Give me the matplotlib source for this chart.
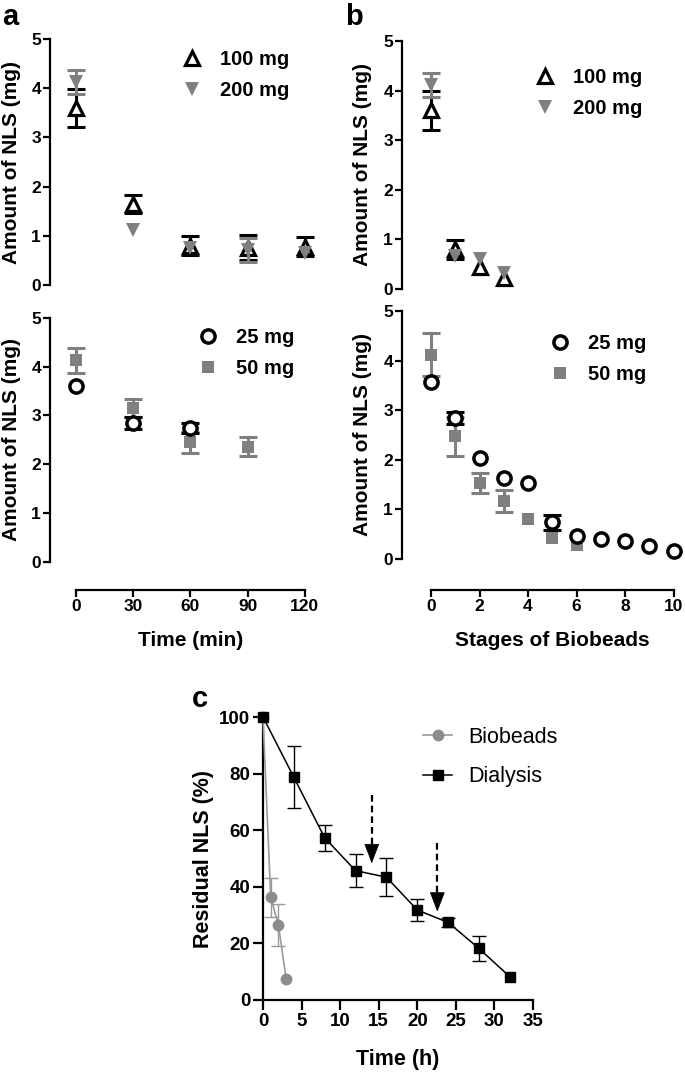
import matplotlib
matplotlib.use('Agg')
import matplotlib.pyplot as plt
from matplotlib.lines import Line2D
import numpy as np

plt.rcParams['font.family'] = ['Liberation Sans', 'DejaVu Sans']
plt.rcParams['font.weight'] = 'bold'
plt.rcParams['axes.labelweight'] = 'bold'

# ---------------- data ----------------
# panel a (time in min)
time_min = [0, 30, 60, 90, 120]
a_100_mean = [3.60, 1.65, 0.80, 0.76, 0.78]
a_100_err = [0.39, 0.18, 0.19, 0.26, 0.19]
a_200_mean = [4.12, 1.12, 0.75, 0.71, 0.65]
a_200_err = [0.24, 0.00, 0.00, 0.24, 0.00]

time_25 = [0, 30, 60]
a_25_mean = [3.60, 2.84, 2.75]
a_25_err = [0.00, 0.12, 0.10]
time_50 = [0, 30, 60, 90]
a_50_mean = [4.13, 3.15, 2.45, 2.36]
a_50_err = [0.26, 0.18, 0.21, 0.20]

# panel b (stages of Biobeads)
stage_top = [0, 1, 2, 3]
b_100_mean = [3.60, 0.80, 0.45, 0.22]
b_100_err = [0.40, 0.19, 0.00, 0.00]
b_200_mean = [4.12, 0.66, 0.60, 0.32]
b_200_err = [0.24, 0.00, 0.00, 0.00]

stage_25 = [0, 1, 2, 3, 4, 5, 6, 7, 8, 9, 10]
b_25_mean = [3.57, 2.84, 2.04, 1.63, 1.53, 0.74, 0.47, 0.41, 0.36, 0.27, 0.17]
b_25_err = [0.00, 0.12, 0.00, 0.00, 0.00, 0.15, 0.00, 0.00, 0.00, 0.00, 0.00]
stage_50 = [0, 1, 2, 3, 4, 5, 6]
b_50_mean = [4.12, 2.47, 1.54, 1.17, 0.81, 0.42, 0.29]
b_50_err = [0.44, 0.40, 0.20, 0.23, 0.00, 0.00, 0.00]

# panel c (time in h)
bio_t = [0, 1, 2, 3]
bio_mean = [100, 36.3, 26.5, 7.5]
bio_err = [0, 6.9, 7.5, 0]
dia_t = [0, 4, 8, 12, 16, 20, 24, 28, 32]
dia_mean = [100, 78.7, 57.3, 45.7, 43.4, 31.8, 27.4, 18.2, 8.2]
dia_err = [0, 11.0, 4.7, 5.9, 6.7, 4.0, 1.5, 4.5, 0]
arrow_x = [14.1, 22.6]
arrow_top = [72.4, 55.4]
arrow_base = [54.8, 37.7]
arrow_tip = [48.3, 31.2]

GRAY = '#808080'
W, H = 685, 1076
fig = plt.figure(figsize=(W / 100, H / 100), dpi=100)


def px_axes(left, top, right, bottom):
    return fig.add_axes([left / W, 1 - bottom / H, (right - left) / W, (bottom - top) / H])


def fpt(x, y):
    return (x / W, 1 - y / H)


def style_ab(ax, xlim, bottom=False, xticks=None, outward=0):
    ax.set_xlim(*xlim)
    ax.set_ylim(0, 5)
    ax.set_yticks([0, 1, 2, 3, 4, 5])
    for s in ['top', 'right']:
        ax.spines[s].set_visible(False)
    ax.spines['left'].set_linewidth(1.6)
    ax.spines['left'].set_bounds(0, 5)
    ax.tick_params(axis='both', labelsize=12.5, width=1.6, length=5, pad=1.5)
    if bottom:
        ax.spines['bottom'].set_position(('outward', outward))
        ax.spines['bottom'].set_bounds(xticks[0], xticks[-1])
        ax.spines['bottom'].set_linewidth(1.6)
        ax.set_xticks(xticks)
    else:
        ax.spines['bottom'].set_visible(False)
        ax.set_xticks([])
    ax.set_ylabel('Amount of NLS (mg)', fontsize=15, va='center')


def errpts(ax, x, m, e, color, z):
    x = np.asarray(x); m = np.asarray(m); e = np.asarray(e)
    k = e > 0
    if k.any():
        ax.errorbar(x[k], m[k], yerr=e[k], fmt='none', ecolor=color, elinewidth=2.2,
                    capsize=6.5, capthick=2.2, zorder=z, clip_on=False)


# ---------- panel a ----------
axA1 = px_axes(50, 39, 320, 285)
style_ab(axA1, (-13.6, 128))
errpts(axA1, time_min, a_100_mean, a_100_err, 'black', 2)
axA1.plot(time_min, a_100_mean, ls='none', marker='^', ms=10.5, mfc='white', mec='black', mew=2.3,
          zorder=3, clip_on=False)
errpts(axA1, time_min, a_200_mean, a_200_err, GRAY, 4)
axA1.plot(time_min, a_200_mean, ls='none', marker='v', ms=9.5, mfc=GRAY, mec=GRAY, mew=0,
          zorder=5, clip_on=False)
axA1.yaxis.set_label_coords((12 - 50) / 270, 0.5)

axA2 = px_axes(50, 318, 320, 561.7)
style_ab(axA2, (-13.6, 128), bottom=True, xticks=[0, 30, 60, 90, 120], outward=20.5)
errpts(axA2, time_50, a_50_mean, a_50_err, GRAY, 2)
axA2.plot(time_50, a_50_mean, ls='none', marker='s', ms=8.5, mfc=GRAY, mec=GRAY, mew=0,
          zorder=3, clip_on=False)
errpts(axA2, time_25, a_25_mean, a_25_err, 'black', 4)
axA2.plot(time_25, a_25_mean, ls='none', marker='o', ms=9.5, mfc='white', mec='black', mew=2.5,
          zorder=5, clip_on=False)
axA2.yaxis.set_label_coords((12 - 50) / 270, 0.5)
axA2.set_xlabel('Time (min)', fontsize=15, va='center')
axA2.xaxis.set_label_coords((190.5 - 50) / 270, (561.7 - 640) / 243.7)

# ---------- panel b ----------
axB1 = px_axes(402, 41, 685, 289)
style_ab(axB1, (-1.196, 10.47))
errpts(axB1, stage_top, b_100_mean, b_100_err, 'black', 2)
axB1.plot(stage_top, b_100_mean, ls='none', marker='^', ms=10.5, mfc='white', mec='black', mew=2.3,
          zorder=3, clip_on=False)
errpts(axB1, stage_top, b_200_mean, b_200_err, GRAY, 4)
axB1.plot(stage_top, b_200_mean, ls='none', marker='v', ms=9.5, mfc=GRAY, mec=GRAY, mew=0,
          zorder=5, clip_on=False)
axB1.yaxis.set_label_coords((363 - 402) / 283, 0.5)

axB2 = px_axes(402, 311, 685, 559)
style_ab(axB2, (-1.196, 10.47), bottom=True, xticks=[0, 2, 4, 6, 8, 10], outward=22.3)
errpts(axB2, stage_50, b_50_mean, b_50_err, GRAY, 2)
axB2.plot(stage_50, b_50_mean, ls='none', marker='s', ms=8.5, mfc=GRAY, mec=GRAY, mew=0,
          zorder=3, clip_on=False)
errpts(axB2, stage_25, b_25_mean, b_25_err, 'black', 4)
axB2.plot(stage_25, b_25_mean, ls='none', marker='o', ms=9.5, mfc='white', mec='black', mew=2.5,
          zorder=5, clip_on=False)
axB2.yaxis.set_label_coords((363 - 402) / 283, 0.5)
axB2.set_xlabel('Stages of Biobeads', fontsize=15, va='center')
axB2.xaxis.set_label_coords((552 - 402) / 283, (559 - 640) / 248)

# legends for a/b
h_100 = Line2D([], [], ls='none', marker='^', ms=10.5, mfc='white', mec='black', mew=2.3)
h_200 = Line2D([], [], ls='none', marker='v', ms=9.5, mfc=GRAY, mec=GRAY, mew=0)
h_25 = Line2D([], [], ls='none', marker='o', ms=9.5, mfc='white', mec='black', mew=2.5)
h_50 = Line2D([], [], ls='none', marker='s', ms=8.5, mfc=GRAY, mec=GRAY, mew=0)


def leg(ax, handles, labels, x, y):
    ax.legend(handles, labels, loc='upper left', bbox_to_anchor=fpt(x, y),
              bbox_transform=fig.transFigure, frameon=False, borderpad=0, borderaxespad=0,
              handlelength=1.0, handletextpad=0.9, labelspacing=0.6,
              prop={'size': 14.5, 'weight': 'bold'})


leg(axA1, [h_100, h_200], ['100 mg', '200 mg'], 182, 50)
leg(axA2, [h_25, h_50], ['25 mg', '50 mg'], 198, 328)
leg(axB1, [h_100, h_200], ['100 mg', '200 mg'], 535, 68)
leg(axB2, [h_25, h_50], ['25 mg', '50 mg'], 550, 334)

# ---------- panel c ----------
axC = px_axes(263, 717, 533, 1000)
axC.set_xlim(0, 35)
axC.set_ylim(0, 100)
axC.set_xticks(range(0, 36, 5))
axC.set_yticks(range(0, 101, 20))
for s in ['top', 'right']:
    axC.spines[s].set_visible(False)
for s in ['left', 'bottom']:
    axC.spines[s].set_linewidth(1.6)
axC.tick_params(axis='both', labelsize=13.5, width=1.6, length=7.5, pad=1.5)

bt = np.asarray(bio_t); bm = np.asarray(bio_mean); be = np.asarray(bio_err)
k = be > 0
axC.errorbar(bt[k], bm[k], yerr=be[k], fmt='none', ecolor='#9a9a9a', elinewidth=1.0,
             capsize=5, capthick=1.0, zorder=3, clip_on=False)
axC.plot(bio_t, bio_mean, color='#9a9a9a', lw=1.2, marker='o', ms=7.5, mfc='#8c8c8c',
         mec='#8c8c8c', zorder=4, clip_on=False, label='Biobeads')
dt = np.asarray(dia_t); dm = np.asarray(dia_mean); de = np.asarray(dia_err)
k = de > 0
axC.errorbar(dt[k], dm[k], yerr=de[k], fmt='none', ecolor='black', elinewidth=1.0,
             capsize=5, capthick=1.0, zorder=3, clip_on=False)
axC.plot(dia_t, dia_mean, color='black', lw=1.1, marker='s', ms=7.5, mfc='black',
         mec='black', zorder=5, clip_on=False, label='Dialysis')

for xa, yt, yb, yp in zip(arrow_x, arrow_top, arrow_base, arrow_tip):
    axC.plot([xa, xa], [yt, yb], color='black', lw=1.6, ls=(0, (3, 1.8)), zorder=6)
    axC.annotate('', xy=(xa, yp), xytext=(xa, yb + 0.5),
                 arrowprops=dict(arrowstyle='-|>,head_length=13,head_width=5',
                                 mutation_scale=1, lw=0.5, color='black',
                                 shrinkA=0, shrinkB=0), zorder=6)

axC.set_ylabel('Residual NLS (%)', fontsize=15.5, va='center')
axC.yaxis.set_label_coords((203 - 263) / 270, 0.5)
axC.set_xlabel('Time (h)', fontsize=15.5, va='center')
axC.xaxis.set_label_coords(0.5, (1000 - 1060) / 283)

axC.legend(loc='upper left', bbox_to_anchor=fpt(423, 727), bbox_transform=fig.transFigure,
           frameon=False, borderpad=0, borderaxespad=0, handlelength=1.35,
           handletextpad=0.75, labelspacing=0.85, prop={'size': 15.5, 'weight': 'normal'})

# panel letters
fig.text(2 / W, 1 - 25 / H, 'a', fontsize=21, fontweight='bold', va='baseline', ha='left')
fig.text(345 / W, 1 - 25 / H, 'b', fontsize=21, fontweight='bold', va='baseline', ha='left')
fig.text(192 / W, 1 - 707 / H, 'c', fontsize=21, fontweight='bold', va='baseline', ha='left')

fig.savefig('out.png', dpi=100)
